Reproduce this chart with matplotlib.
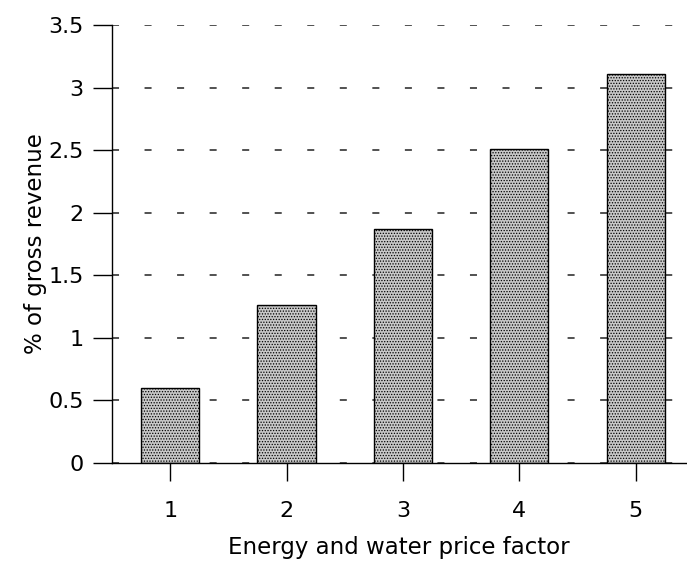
import matplotlib
matplotlib.use("Agg")
import matplotlib.pyplot as plt

# ---------------------------------------------------
# Data
# ---------------------------------------------------

price_factor = [1, 2, 3, 4, 5]
pct_revenue = [0.60, 1.26, 1.87, 2.51, 3.11]
y_ticks = [0, 0.5, 1, 1.5, 2, 2.5, 3, 3.5]
y_tick_labels = ["0", "0.5", "1", "1.5", "2", "2.5", "3", "3.5"]

plt.rcParams["font.family"] = ["DejaVu Sans"]
plt.rcParams["hatch.color"] = "#5e5e5e"
plt.rcParams["hatch.linewidth"] = 0.6

fig = plt.figure(figsize=(6.87, 5.63), dpi=100)
ax = fig.add_axes([0.163, 0.1776, 0.835, 0.778])

ax.bar(price_factor, pct_revenue, width=0.5,
       color="#c8c8c8", edgecolor="black", linewidth=1.0,
       hatch="......", zorder=3)

ax.set_xlim(0.5, 5.43)
ax.set_ylim(0, 3.5)

ax.set_xticks(price_factor)
ax.set_yticks(y_ticks)
ax.set_yticklabels(y_tick_labels)

# dashed horizontal grid behind the bars
ax.yaxis.grid(True, color="#222222", linewidth=1.1,
              linestyle=(0.0, (4.6, 16.7)), zorder=0)
ax.xaxis.grid(False)

for side in ["top", "right"]:
    ax.spines[side].set_visible(False)
for side in ["left", "bottom"]:
    ax.spines[side].set_linewidth(1.0)
    ax.spines[side].set_color("black")
    ax.spines[side].set_zorder(4)

ax.tick_params(axis="y", direction="out", length=13.5, width=1.0,
               pad=7, labelsize=16)
ax.tick_params(axis="x", direction="out", length=13, width=1.0,
               pad=14, labelsize=16)

ax.set_xlabel("Energy and water price factor", fontsize=16.5, labelpad=11)
ax.set_ylabel("% of gross revenue", fontsize=16.5, labelpad=1)

fig.savefig("out.png", dpi=100)
